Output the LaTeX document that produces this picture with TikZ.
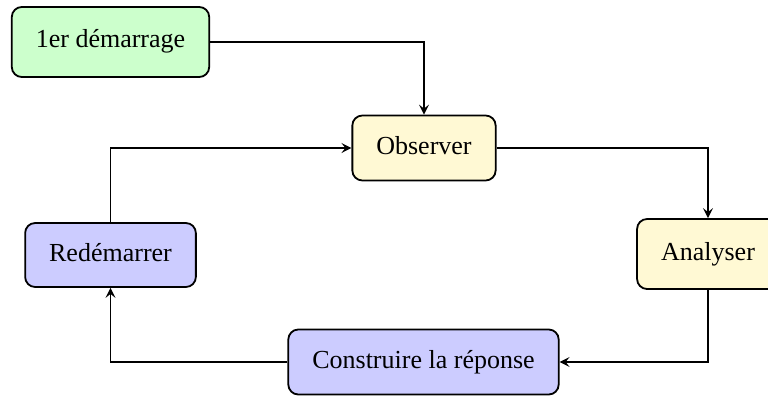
\documentclass[tikz,border=0pt]{standalone}
\usepackage{fontspec}
\setmainfont{Liberation Serif}
\usetikzlibrary{arrows.meta}
\definecolor{cgreen}{HTML}{CCFFCC}
\definecolor{cyellow}{HTML}{FFF9D4}
\definecolor{cblue}{HTML}{CCCCFF}
\tikzset{
  box/.style={draw=black, line width=1.8pt, rounded corners=10pt, inner xsep=24pt, inner ysep=0pt,
    font=\fontsize{26}{30}\selectfont, text height=18pt, text depth=6pt},
  conn/.style={line width=1.3pt, -{Stealth[length=10pt,width=10pt,inset=4pt]}}
}
\begin{document}
\begin{tikzpicture}[x=1pt,y=-1pt]
\useasboundingbox (0,0) rectangle (768,396);
\node[box, fill=cgreen, minimum height=70pt] (start) at (110.5,42) {1er démarrage};
\node[box, fill=cyellow, minimum height=65pt] (obs) at (424,148) {Observer};
\node[box, fill=cyellow, minimum height=70pt] (ana) at (708,254) {Analyser};
\node[box, fill=cblue, minimum height=64pt] (red) at (110.5,255) {Redémarrer};
\node[box, fill=cblue, minimum height=65pt] (cons) at (423.5,362) {Construire la réponse};
\draw[conn] (start.east) -| (obs.north);
\draw[conn] (obs.east) -| (ana.north);
\draw[conn] (ana.south) |- (cons.east);
\draw[conn] (cons.west) -| (red.south);
\draw[conn] (red.north) |- (obs.west);
\end{tikzpicture}
\end{document}
